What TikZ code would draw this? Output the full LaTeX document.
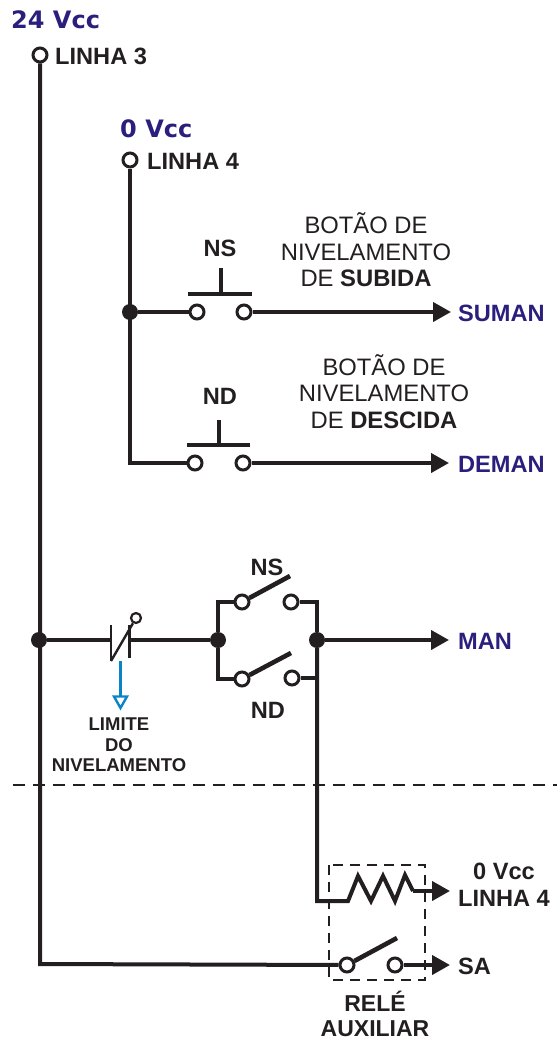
\documentclass[tikz,border=0pt]{standalone}
\usepackage{fontspec}
\setmainfont{Liberation Sans}
\newfontfamily\widefont{DejaVu Sans}
\usetikzlibrary{arrows.meta}
\definecolor{ink}{HTML}{231F20}
\definecolor{navy}{HTML}{2A1F7C}
\definecolor{bluearrow}{HTML}{0A84C6}
\tikzset{
  wire/.style={draw=ink,line width=4pt},
  thin wire/.style={draw=ink,line width=3.4pt},
  blade/.style={draw=ink,line width=4.6pt},
  term/.style={circle,draw=ink,line width=3pt,fill=white,minimum size=14pt,inner sep=0pt},
  dot/.style={circle,fill=ink,minimum size=16pt,inner sep=0pt},
  sig/.style={wire,-{Triangle[length=18pt,width=19pt]}},
  lab/.style={text=ink,font=\fontsize{23.6}{27}\selectfont\bfseries,inner sep=0pt,align=center},
  relay lab/.style={text=ink,font=\fontsize{23}{25.5}\selectfont\bfseries,inner sep=0pt,align=center},
  small lab/.style={text=ink,font=\fontsize{18.5}{20.5}\selectfont\bfseries,inner sep=0pt,align=center},
  note/.style={text=ink,font=\fontsize{23.8}{26.6}\selectfont,inner sep=0pt,align=center},
  navy lab/.style={text=navy,font=\fontsize{23.6}{27}\selectfont\bfseries,inner sep=0pt,anchor=west},
  volt/.style={text=navy,font=\fontsize{24}{28}\selectfont\widefont\bfseries,inner sep=0pt,anchor=west},
  relay box/.style={draw=ink,line width=1.8pt,dash pattern=on 10pt off 7pt},
}
\begin{document}
\begin{tikzpicture}[x=1pt,y=-1pt]
\useasboundingbox (0,0) rectangle (557,1041);
% coordinates
\node[term] (L3) at (40,55) {};
\node[term] (L4) at (130,160) {};
\node[dot] (J1) at (130,312) {};
\node[dot] (J2) at (39,640) {};
\node[dot] (J3) at (218,640) {};
\node[dot] (J4) at (317,640) {};
\node[term] (NSa) at (197,312) {};
\node[term] (NSb) at (244,312) {};
\node[term] (NDa) at (195,463) {};
\node[term] (NDb) at (243,463) {};
\node[term] (UPa) at (242,602) {};
\node[term] (UPb) at (291,602) {};
\node[term] (LOa) at (242,679) {};
\node[term] (LOb) at (292,678) {};
\node[term] (SAa) at (347,965) {};
\node[term] (SAb) at (395,965) {};
\coordinate (TSU) at (451,312);
\coordinate (TDE) at (449,463);
\coordinate (TMA) at (449,640);
\coordinate (TCO) at (450,891);
\coordinate (TSA) at (450,965);
% wires
\draw[wire] (L3) -- (40,964) -- (SAa);
\draw[wire] (L4) -- (130,463) -- (NDa);
\draw[wire] (J1) -- (NSa);
\draw[sig] (NSb) -- (TSU);
\draw[sig] (NDb) -- (TDE);
\draw[wire] (J2) -- (111,640);
\draw[wire] (129,640) -- (J3);
\draw[thin wire] (J3) |- (UPa);
\draw[thin wire] (J3) |- (LOa);
\draw[thin wire] (UPb) -| (J4);
\draw[thin wire] (LOb) -- (317,678);
\draw[sig] (J4) -- (TMA);
\draw[wire,line join=miter] (J4) -- (317,901) -- (348,901)
  -- (358,876) -- (371,901) -- (383,876) -- (395,901) -- (405,875) -- (413,891);
\draw[sig] (413,891) -- (TCO);
\draw[sig] (SAb) -- (TSA);
% push buttons
\draw[draw=ink,line width=4.4pt] (188,294) -- (252,294);
\draw[draw=ink,line width=4.4pt] (221,268) -- (221,294);
\draw[draw=ink,line width=4.4pt] (187,445) -- (250,445);
\draw[draw=ink,line width=4.4pt] (219,420) -- (219,445);
% blades
\draw[blade] (UPa) -- (290,576);
\draw[blade] (LOa) -- (291,653);
\draw[blade] (SAa) -- (397,938);
% limit contact
\draw[draw=ink,line width=2.4pt] (111,625) -- (111,661);
\draw[draw=ink,line width=2.4pt] (129.5,625) -- (129.5,658);
\node[term,minimum size=10pt,line width=2.2pt] (LIM) at (136,618) {};
\draw[draw=ink,line width=2.4pt] (111,661) -- (LIM);
% blue arrow
\coordinate (BA) at (120.5,661);
\coordinate (BB) at (120.5,696);
\draw[draw=bluearrow,line width=2.6pt] (BA) -- (BB);
\draw[draw=bluearrow,line width=2.4pt,fill=white,line join=miter] (114,696.5) -- (127,696.5) -- (120.5,708) -- cycle;
% dashed
\coordinate (DL) at (13,785);
\coordinate (DR) at (557,785);
\draw[draw=ink,line width=1.8pt,dash pattern=on 12pt off 8pt] (DL) -- (DR);
\draw[relay box] (329,865) rectangle (425,980);
% labels
\node[volt] (V24) at (11,19.5) {24 Vcc};
\node[volt] (V0) at (120,128.5) {0 Vcc};
\node[lab,anchor=west] (LL3) at (55,56) {LINHA 3};
\node[lab,anchor=west] (LL4) at (147,161) {LINHA 4};
\node[lab] (LNS) at (220,248) {NS};
\node[lab] (LND) at (220,396) {ND};
\node[note] (BS) at (366,250) {BOTÃO DE\\NIVELAMENTO\\DE \textbf{SUBIDA}};
\node[note] (BD) at (384,391.5) {BOTÃO DE\\NIVELAMENTO\\DE \textbf{DESCIDA}};
\node[navy lab] (SU) at (458,313) {SUMAN};
\node[navy lab] (DE) at (458,464) {DEMAN};
\node[navy lab] (MA) at (458,641) {MAN};
\node[lab] (NS2) at (267,567) {NS};
\node[lab] (ND2) at (268,710) {ND};
\node[small lab] (LM) at (119,745) {LIMITE\\DO\\NIVELAMENTO};
\node[lab] (CV) at (504,885) {0 Vcc\\LINHA 4};
\node[lab,anchor=west] (SAL) at (458,966) {SA};
\node[relay lab] (RA) at (375,1014) {RELÉ\\AUXILIAR};
\end{tikzpicture}
\end{document}
